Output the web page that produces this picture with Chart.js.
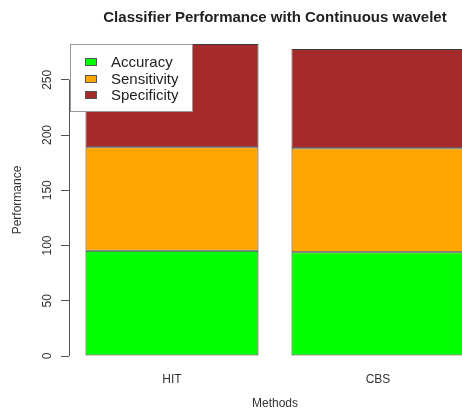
<!DOCTYPE html>
<html>
<head>
<meta charset="utf-8">
<script src="https://cdn.jsdelivr.net/npm/chart.js@4.4.0/dist/chart.umd.min.js"></script>
<style>
    html, body { margin: 0; padding: 0; overflow: hidden; background: #fff; }
    #wrap { width: 550px; height: 411px; }
</style>
</head>
<body>
<div id="wrap"><canvas id="perfChart" width="550" height="411"></canvas></div>
<script>
// data
var methods = ["HIT", "CBS"];
var accuracy = [95.3, 93.8];
var sensitivity = [93.6, 94.2];
var specificity = [93.5, 89.8];
var yTicks = [0, 50, 100, 150, 200, 250];

var seriesColors = ["#00ff00", "#ffa500", "#a52a2a"];

Chart.defaults.font.family = "'Liberation Sans', Arial, sans-serif";
Chart.defaults.color = "#333";

// top of the highest stack = top of the plot
var stackTop = Math.max.apply(null, methods.map(function (m, i) {
    return accuracy[i] + sensitivity[i] + specificity[i];
}));

// R style y axis line, only from first to last tick
var yAxisLine = {
    id: "yAxisLine",
    afterDraw: function (chart) {
        var ctx = chart.ctx;
        var y = chart.scales.y;
        var x = Math.round(y.right) + 0.5;
        ctx.save();
        ctx.strokeStyle = "#555";
        ctx.lineWidth = 1;
        ctx.beginPath();
        ctx.moveTo(x, y.getPixelForValue(yTicks[0]));
        ctx.lineTo(x, y.getPixelForValue(yTicks[yTicks.length - 1]));
        ctx.stroke();
        ctx.restore();
    },
};

// boxed legend in the top left corner of the plot
var boxLegend = {
    id: "boxLegend",
    afterDatasetsDraw: function (chart) {
        var ctx = chart.ctx;
        var area = chart.chartArea;
        var left = Math.round(area.left) + 1;
        var top = Math.round(area.top);
        ctx.save();
        ctx.fillStyle = "#fff";
        ctx.fillRect(left, top, 122, 67);
        ctx.strokeStyle = "#999";
        ctx.lineWidth = 1;
        ctx.strokeRect(left + 0.5, top + 0.5, 122, 67);
        ctx.font = "15px 'Liberation Sans', Arial, sans-serif";
        ctx.textBaseline = "middle";
        chart.data.datasets.forEach(function (ds, i) {
            var cy = top + 18 + i * 16.5;
            ctx.fillStyle = ds.backgroundColor;
            ctx.fillRect(left + 15, Math.round(cy - 4), 12, 8);
            ctx.strokeStyle = "#555";
            ctx.strokeRect(left + 15.5, Math.round(cy - 4) + 0.5, 11, 7);
            ctx.fillStyle = "#222";
            ctx.fillText(ds.label, left + 41, cy + 1);
        });
        ctx.restore();
    },
};

var ctxPerf = document.getElementById("perfChart").getContext("2d");
var perfChart = new Chart(ctxPerf, {
    type: "bar",
    data: {
        labels: methods,
        datasets: [
            { label: "Accuracy", data: accuracy, backgroundColor: seriesColors[0] },
            { label: "Sensitivity", data: sensitivity, backgroundColor: seriesColors[1] },
            { label: "Specificity", data: specificity, backgroundColor: seriesColors[2] },
        ],
    },
    options: {
        responsive: false,
        animation: false,
        devicePixelRatio: 1,
        layout: { padding: 0 },
        datasets: {
            bar: {
                borderColor: "#3a3a3a",
                borderWidth: 1,
                borderSkipped: false,
                categoryPercentage: 1,
                barPercentage: 0.84,
            },
        },
        plugins: {
            legend: { display: false },
            tooltip: { enabled: false },
            title: {
                display: true,
                text: "Classifier Performance with Continuous wavelet",
                color: "#222",
                font: { size: 15, weight: "bold" },
                padding: { top: 9, bottom: 17 },
            },
        },
        scales: {
            x: {
                stacked: true,
                grid: { display: false, drawTicks: false },
                border: { display: false },
                ticks: { padding: 16, font: { size: 12 }, color: "#333" },
                title: {
                    display: true,
                    text: "Methods",
                    font: { size: 12 },
                    color: "#333",
                    padding: { top: 4, bottom: 0 },
                },
                afterFit: function (scale) {
                    scale.height = 55;
                },
            },
            y: {
                stacked: true,
                min: 0,
                max: stackTop,
                grid: {
                    drawOnChartArea: false,
                    drawTicks: true,
                    tickLength: 8,
                    color: "#555",
                },
                border: { display: false },
                afterBuildTicks: function (scale) {
                    scale.ticks = yTicks.map(function (v) { return { value: v }; });
                },
                ticks: {
                    minRotation: 90,
                    maxRotation: 90,
                    crossAlign: "center",
                    padding: 3,
                    font: { size: 12 },
                    color: "#333",
                },
                title: {
                    display: true,
                    text: "Performance",
                    font: { size: 12 },
                    color: "#333",
                    padding: { top: 10, bottom: 0 },
                },
                afterFit: function (scale) {
                    scale.width = 69;
                },
            },
            // empty right margin of the plot region (cut off by the window)
            yRight: {
                position: "right",
                grid: { display: false },
                border: { display: false },
                ticks: { display: false },
                afterFit: function (scale) {
                    scale.width = 69;
                },
            },
        },
    },
    plugins: [yAxisLine, boxLegend],
});
</script>
</body>
</html>
